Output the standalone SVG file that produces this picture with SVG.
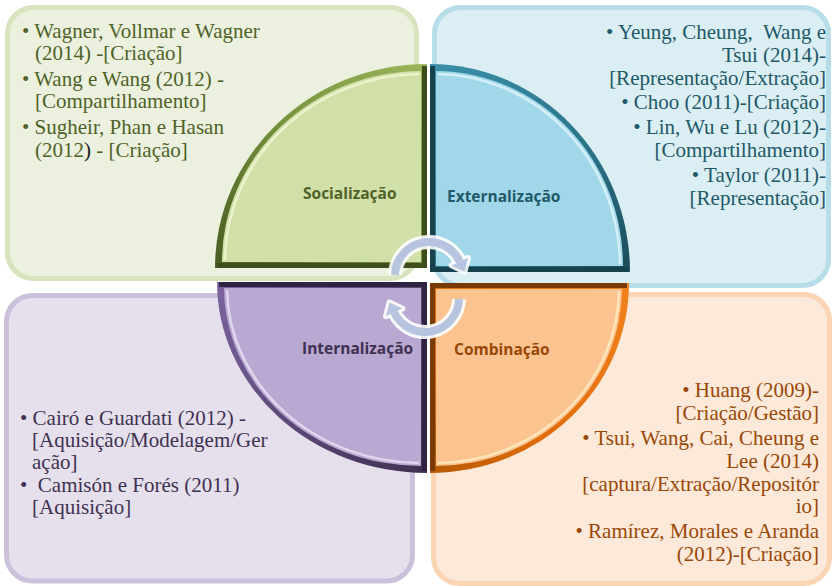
<svg xmlns="http://www.w3.org/2000/svg" width="834" height="586" viewBox="0 0 834 586">
  <defs>
    <style>
      .box { stroke-width: 5; }
      .body { font-family: 'Liberation Serif', 'Times New Roman', serif; font-size: 21px; }
      .end { text-anchor: end; }
      .label { font-family: 'Open Sans', 'Liberation Sans', sans-serif; font-size: 15.5px; font-weight: bold; }
      .hl { fill: none; stroke-width: 2.5; opacity: 0.75; }
      .rim { fill: none; stroke-width: 5; }
      .shaftOut { fill: none; stroke: #ffffff; stroke-width: 14; opacity: 0.9; }
      .shaftIn { fill: none; stroke: #b7c4df; stroke-width: 8; }
      .headOut { fill: #ffffff; stroke: #ffffff; stroke-width: 6; stroke-linejoin: round; opacity: 0.9; }
      .headIn { fill: #b7c4df; }
    </style>
    <linearGradient id="edgeGreen" x1="427" y1="64" x2="215" y2="268" gradientUnits="userSpaceOnUse">
      <stop offset="0" stop-color="#9AB55A"/>
      <stop offset="0.5" stop-color="#76923C"/>
      <stop offset="1" stop-color="#4A5C22"/>
    </linearGradient>
    <linearGradient id="edgeBlue" x1="430" y1="64" x2="630" y2="272" gradientUnits="userSpaceOnUse">
      <stop offset="0" stop-color="#3B8FA8"/>
      <stop offset="0.6" stop-color="#2A7388"/>
      <stop offset="1" stop-color="#1B4C5A"/>
    </linearGradient>
    <linearGradient id="edgePurple" x1="217" y1="282" x2="427" y2="473" gradientUnits="userSpaceOnUse">
      <stop offset="0" stop-color="#7C64A0"/>
      <stop offset="0.5" stop-color="#5F497A"/>
      <stop offset="1" stop-color="#3F3151"/>
    </linearGradient>
    <linearGradient id="edgeOrange" x1="629" y1="283" x2="430" y2="473" gradientUnits="userSpaceOnUse">
      <stop offset="0" stop-color="#F0821E"/>
      <stop offset="0.6" stop-color="#E36C09"/>
      <stop offset="1" stop-color="#B85A06"/>
    </linearGradient>
  </defs>

  <rect width="834" height="586" fill="#ffffff"/>

  <!-- Background panels with their reference lists -->
  <g id="box-socializacao">
    <rect class="box" x="7.5" y="7.5" width="409" height="271" rx="26" fill="#EBF1DE" stroke="#D7E4BD"/>
    <g class="body" fill="#4F6228">
      <text x="22" y="38">• Wagner, Vollmar e Wagner</text>
      <text x="35" y="60">(2014) -[Criação]</text>
      <text x="22" y="86">• Wang e Wang (2012) -</text>
      <text x="35" y="108">[Compartilhamento]</text>
      <text x="22" y="134">• Sugheir, Phan e Hasan</text>
      <text x="35" y="157">(2012<tspan fill="#1a1a1a">)</tspan> - [Criação]</text>
    </g>
  </g>

  <g id="box-externalizacao">
    <rect class="box" x="434.5" y="7.5" width="394" height="278" rx="26" fill="#DBEEF4" stroke="#B7DDE8"/>
    <g class="body end" fill="#215968">
      <text x="826" y="39" xml:space="preserve">• Yeung, Cheung,  Wang e</text>
      <text x="826" y="62">Tsui (2014)-</text>
      <text x="826" y="85">[Representação/Extração]</text>
      <text x="826" y="109">• Choo (2011)-[Criação]</text>
      <text x="826" y="134">• Lin, Wu e Lu (2012)-</text>
      <text x="826" y="157">[Compartilhamento]</text>
      <text x="826" y="182">• Taylor (2011)-</text>
      <text x="826" y="205">[Representação]</text>
    </g>
  </g>

  <g id="box-internalizacao">
    <rect class="box" x="6.5" y="295.5" width="406" height="285.5" rx="26" fill="#E5E0EC" stroke="#CCC1DA"/>
    <g class="body" fill="#3F3151">
      <text x="20" y="425">• Cairó e Guardati (2012) -</text>
      <text x="32" y="447">[Aquisição/Modelagem/Ger</text>
      <text x="32" y="469">ação]</text>
      <text x="20" y="492" xml:space="preserve">•  Camisón e Forés (2011)</text>
      <text x="32" y="514">[Aquisição]</text>
    </g>
  </g>

  <g id="box-combinacao">
    <rect class="box" x="433.5" y="294.5" width="396" height="289" rx="26" fill="#FDE9D9" stroke="#FBD4B4"/>
    <g class="body end" fill="#984807">
      <text x="819" y="397">• Huang (2009)-</text>
      <text x="819" y="420">[Criação/Gestão]</text>
      <text x="819" y="445">• Tsui, Wang, Cai, Cheung e</text>
      <text x="819" y="468">Lee (2014)</text>
      <text x="819" y="491">[captura/Extração/Repositór</text>
      <text x="819" y="513">io]</text>
      <text x="819" y="538">• Ramírez, Morales e Aranda</text>
      <text x="819" y="561">(2012)-[Criação]</text>
    </g>
  </g>

  <!-- Bevelled quarter discs -->
  <g id="q-socializacao">
    <path d="M427,64 A212,204 0 0 0 215,268 L427,268 Z" fill="url(#edgeGreen)"/>
    <path d="M421,71 A200,191 0 0 0 222,262 L421,262 Z" fill="#D1E0A9"/>
    <path class="hl" d="M419,74 A197,188 0 0 0 225,260" stroke="#F4F8D8"/>
    <polyline class="rim" points="217,265.5 424.5,265.5 424.5,66" stroke="#3E4D1C"/>
    <text class="label" x="303" y="199" fill="#4F6228">Socialização</text>
  </g>

  <g id="q-externalizacao">
    <path d="M430,64 A200,208 0 0 1 630,272 L430,272 Z" fill="url(#edgeBlue)"/>
    <path d="M436,71 A188,195 0 0 1 623,266 L436,266 Z" fill="#A0D8EA"/>
    <path class="hl" d="M438,74 A185,192 0 0 1 620,264" stroke="#E6F7FC"/>
    <polyline class="rim" points="432.5,66 432.5,269.5 628,269.5" stroke="#17414D"/>
    <text class="label" x="447" y="202" fill="#215968">Externalização</text>
  </g>

  <g id="q-internalizacao">
    <path d="M217,282 A210,191 0 0 0 427,473 L427,282 Z" fill="url(#edgePurple)"/>
    <path d="M224,288 A197,179 0 0 0 421,466 L421,288 Z" fill="#B9A8D1"/>
    <path class="hl" d="M227,290 A194,176 0 0 0 419,463" stroke="#EDE6F7"/>
    <polyline class="rim" points="219,284.5 424.5,284.5 424.5,471" stroke="#2E2340"/>
    <text class="label" x="302" y="354" fill="#3F3151">Internalização</text>
  </g>

  <g id="q-combinacao">
    <path d="M629,283 A199,190 0 0 1 430,473 L430,283 Z" fill="url(#edgeOrange)"/>
    <path d="M622,289 A186,178 0 0 1 436,466 L436,289 Z" fill="#FBC38F"/>
    <path class="hl" d="M619,291 A183,175 0 0 1 438,463" stroke="#FFF0C8"/>
    <polyline class="rim" points="627,285.5 432.5,285.5 432.5,471" stroke="#7A3A04"/>
    <text class="label" x="454" y="355" fill="#984807">Combinação</text>
  </g>

  <!-- Cycle arrows -->
  <g id="connectors">
    <path class="shaftOut" d="M395,274.8 A34,34 0 0 1 459.8,261.6"/>
    <path class="shaftOut" d="M459,299.2 A34,34 0 0 1 394.2,312.4"/>
    <polygon class="headOut" points="468,257.8 451.6,265.4 464.5,271.6"/>
    <polygon class="headOut" points="386,316.2 402.4,308.6 389.5,302.4"/>
    <path class="shaftIn" d="M395,274.8 A34,34 0 0 1 459.8,261.6"/>
    <path class="shaftIn" d="M459,299.2 A34,34 0 0 1 394.2,312.4"/>
    <polygon class="headIn" points="468,257.8 451.6,265.4 464.5,271.6"/>
    <polygon class="headIn" points="386,316.2 402.4,308.6 389.5,302.4"/>
  </g>
</svg>
